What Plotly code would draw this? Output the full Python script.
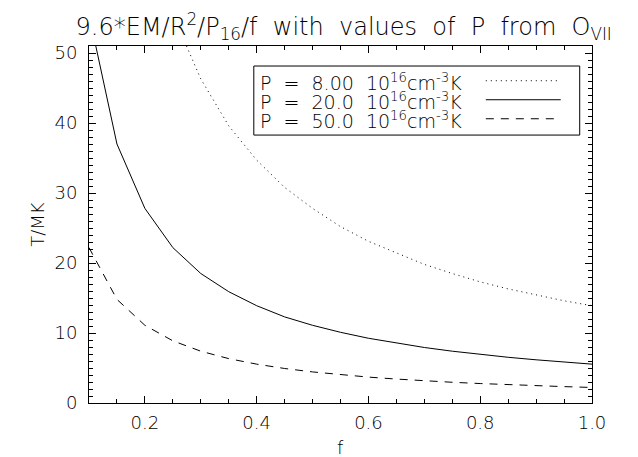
import plotly.graph_objects as go

# data
f_vals = [0.10, 0.15, 0.20, 0.25, 0.30, 0.35, 0.40, 0.45, 0.50, 0.55,
          0.60, 0.65, 0.70, 0.75, 0.80, 0.85, 0.90, 0.95, 1.00]
t_p8 = [138.8, 92.5, 69.4, 55.5, 46.3, 39.6, 34.7, 30.8, 27.8, 25.2,
        23.1, 21.4, 19.8, 18.5, 17.3, 16.3, 15.4, 14.6, 13.9]
t_p20 = [55.5, 37.0, 27.8, 22.2, 18.5, 15.9, 13.9, 12.3, 11.1, 10.1,
         9.25, 8.54, 7.93, 7.40, 6.94, 6.53, 6.17, 5.84, 5.55]
t_p50 = [22.2, 14.8, 11.1, 8.88, 7.40, 6.34, 5.55, 4.93, 4.44, 4.04,
         3.70, 3.42, 3.17, 2.96, 2.78, 2.61, 2.47, 2.34, 2.22]
legend_labels = ["P  =  8.00  10<sup>16</sup>cm<sup>-3</sup>K",
                 "P  =  20.0  10<sup>16</sup>cm<sup>-3</sup>K",
                 "P  =  50.0  10<sup>16</sup>cm<sup>-3</sup>K"]
x_ticks = [0.2, 0.4, 0.6, 0.8, 1.0]
y_ticks = [0, 10, 20, 30, 40, 50]
title_text = "9.6*EM/R<sup>2</sup>/P<sub>16</sub>/f  with  values  of  P  from  O<sub>VII</sub>"

FONT = "DejaVu Sans"
WT = 200
W, H = 638, 457
L, R, T, B = 80.7, 584.3, 38.3, 395.0

dashes = ["1px,4px", "solid", "8px,7px"]
series = [t_p8, t_p20, t_p50]

fig = go.Figure()
for ys, d in zip(series, dashes):
    fig.add_trace(go.Scatter(x=f_vals, y=ys, mode="lines",
                             line=dict(color="black", width=1, dash=d),
                             showlegend=False, hoverinfo="skip"))

fig.update_layout(
    width=W, height=H,
    margin=dict(l=L, r=W - R, t=T, b=H - B, pad=0),
    paper_bgcolor="white", plot_bgcolor="white",
    font=dict(family=FONT, color="black", size=18, weight=WT),
    showlegend=False,
    title=dict(text=title_text,
               x=(L + R) / 2 / W + 0.005, xanchor="center", y=1 - 19 / H, yanchor="middle",
               font=dict(size=24, family=FONT, color="black", weight=WT)),
)
fig.update_xaxes(range=[0.1, 1.0], tickvals=x_ticks, ticktext=[f"{v:.1f}" for v in x_ticks],
                 ticks="inside", ticklen=7, tickwidth=1, tickcolor="black",
                 showline=True, linecolor="black", linewidth=1, mirror="ticks",
                 showgrid=False, zeroline=False, ticklabelstandoff=3,
                 minor=dict(dtick=0.05, tick0=0.1, ticks="inside", ticklen=4, tickcolor="black", showgrid=False),
                 tickfont=dict(size=18, family=FONT, weight=WT))
fig.update_yaxes(range=[0, 51], tickvals=y_ticks,
                 ticks="inside", ticklen=7, tickwidth=1, tickcolor="black",
                 showline=True, linecolor="black", linewidth=1, mirror="ticks",
                 showgrid=False, zeroline=False, ticklabelstandoff=7,
                 minor=dict(dtick=1, tick0=0, ticks="inside", ticklen=4, tickcolor="black", showgrid=False),
                 tickfont=dict(size=18, family=FONT, weight=WT))

def px(x):
    return (x - L) / (R - L)

def py(y):
    return (B - y) / (B - T)

# axis titles
fig.add_annotation(text="f", xref="paper", yref="paper", x=px((L + R) / 2), y=py(439),
                   xanchor="center", yanchor="middle", showarrow=False,
                   font=dict(size=18, family=FONT, color="black", weight=WT))
fig.add_annotation(text="T/MK", xref="paper", yref="paper", x=px(29), y=py((T + B) / 2),
                   xanchor="center", yanchor="middle", showarrow=False, textangle=-90,
                   font=dict(size=18, family=FONT, color="black", weight=WT))

# legend box
fig.add_shape(type="rect", xref="paper", yref="paper",
              x0=px(245.7), x1=px(572), y0=py(127.3), y1=py(58.3),
              line=dict(color="black", width=1), fillcolor="white", layer="above")
rows_y = [74, 93, 112]
for lab, d, yy in zip(legend_labels, dashes, rows_y):
    fig.add_annotation(text=lab, xref="paper", yref="paper", x=px(250), y=py(yy),
                       xanchor="left", yanchor="middle", showarrow=False,
                       font=dict(size=19, family=FONT, color="black", weight=WT))
    fig.add_shape(type="line", xref="paper", yref="paper",
                  x0=px(478), x1=px(553), y0=py(yy - 1), y1=py(yy - 1),
                  line=dict(color="black", width=1, dash=d), layer="above")

fig.write_html("out.html")
